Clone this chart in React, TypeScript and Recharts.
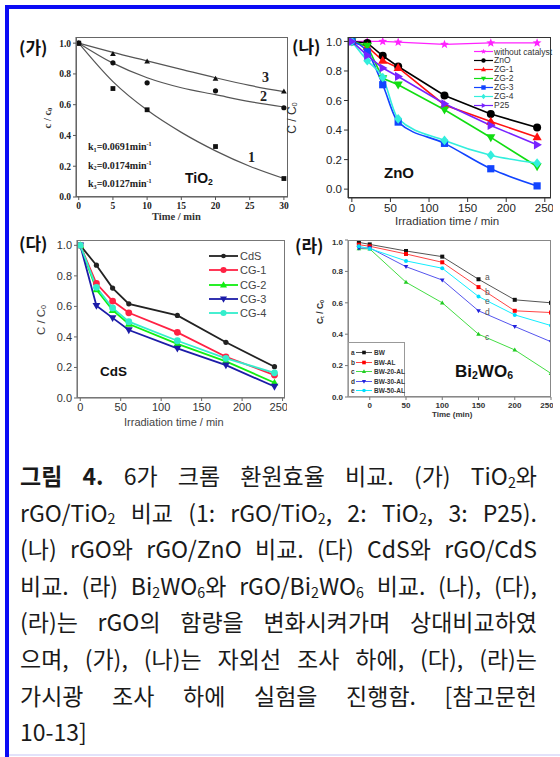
import React from 'react';
import { ComposedChart, LineChart, Line, XAxis, YAxis } from 'recharts';

// (가) TiO2 : fitted curves and measured points
const fitTime = [0, 5, 10, 15, 20, 25, 30];
const fit1 = [1.0, 0.75, 0.565, 0.42, 0.3, 0.2, 0.12];
const fit2 = [1.0, 0.87, 0.775, 0.71, 0.665, 0.62, 0.585];
const fit3 = [1.0, 0.94, 0.885, 0.83, 0.775, 0.725, 0.685];
const ptTime = [0, 5, 10, 20, 30];
const pts1 = [1.0, 0.705, 0.567, 0.328, 0.12];
const pts2 = [1.0, 0.872, 0.742, 0.69, 0.58];
const pts3 = [1.0, 0.93, 0.88, 0.768, 0.686];
const rateLabels = ['0.0691', '0.0174', '0.0127'];

// (나) ZnO
const znTime = [0, 20, 40, 60, 120, 180, 240];
const noCat = [1.0, 1.0, 1.0, 0.995, 0.98, 0.99, 0.99];
const zno = [1.0, 0.99, 0.903, 0.83, 0.634, 0.508, 0.417];
const zg1 = [1.0, 0.965, 0.87, 0.822, 0.57, 0.458, 0.352];
const zg2 = [1.0, 0.97, 0.75, 0.707, 0.537, 0.35, 0.153];
const zg3 = [1.0, 0.93, 0.707, 0.454, 0.31, 0.138, 0.022];
const zg4 = [1.0, 0.87, 0.756, 0.476, 0.33, 0.23, 0.176];
const p25 = [1.0, 0.905, 0.82, 0.763, 0.578, 0.431, 0.3];

// (다) CdS
const cdTime = [0, 20, 40, 60, 120, 180, 240];
const cds = [1.0, 0.87, 0.72, 0.617, 0.541, 0.365, 0.205];
const cg1 = [1.0, 0.75, 0.635, 0.558, 0.43, 0.27, 0.15];
const cg2 = [1.0, 0.71, 0.575, 0.485, 0.355, 0.24, 0.1];
const cg3 = [1.0, 0.605, 0.525, 0.445, 0.325, 0.215, 0.075];
const cg4 = [1.0, 0.725, 0.59, 0.5, 0.375, 0.26, 0.165];

// (라) Bi2WO6
const bwTime = [-15, 0, 50, 100, 150, 200, 250];
const bw = [0.985, 0.972, 0.93, 0.894, 0.75, 0.619, 0.6];
const bwAl = [0.97, 0.96, 0.911, 0.858, 0.7, 0.549, 0.538];
const bw20 = [0.945, 0.943, 0.731, 0.6, 0.4, 0.3, 0.15];
const bw30 = [0.948, 0.95, 0.83, 0.745, 0.549, 0.449, 0.352];
const bw50 = [0.96, 0.945, 0.867, 0.82, 0.64, 0.523, 0.455];

const yTicks = [0, 0.2, 0.4, 0.6, 0.8, 1.0];

type Shape = 'circle' | 'square' | 'tri' | 'down' | 'diamond' | 'right' | 'star';

const Mark = ({ cx, cy, shape, r, fill }: { cx?: number; cy?: number; shape: Shape; r: number; fill: string }) => {
  if (cx == null || cy == null || isNaN(cx) || isNaN(cy)) return null;
  switch (shape) {
    case 'circle':
      return <circle cx={cx} cy={cy} r={r} fill={fill} />;
    case 'square':
      return <rect x={cx - r} y={cy - r} width={r * 2} height={r * 2} fill={fill} />;
    case 'tri':
      return <path d={`M${cx},${cy - r * 1.2}L${cx + r * 1.15},${cy + r * 0.8}L${cx - r * 1.15},${cy + r * 0.8}Z`} fill={fill} />;
    case 'down':
      return <path d={`M${cx},${cy + r * 1.2}L${cx + r * 1.15},${cy - r * 0.8}L${cx - r * 1.15},${cy - r * 0.8}Z`} fill={fill} />;
    case 'right':
      return <path d={`M${cx + r * 1.2},${cy}L${cx - r * 0.8},${cy + r * 1.15}L${cx - r * 0.8},${cy - r * 1.15}Z`} fill={fill} />;
    case 'diamond':
      return <path d={`M${cx},${cy - r * 1.2}L${cx + r},${cy}L${cx},${cy + r * 1.2}L${cx - r},${cy}Z`} fill={fill} />;
    case 'star': {
      let d = '';
      for (let i = 0; i < 10; i++) {
        const rad = i % 2 === 0 ? r * 1.3 : r * 0.55;
        const a = -Math.PI / 2 + (i * Math.PI) / 5;
        d += `${i === 0 ? 'M' : 'L'}${cx + rad * Math.cos(a)},${cy + rad * Math.sin(a)}`;
      }
      return <path d={d + 'Z'} fill={fill} />;
    }
  }
  return null;
};

const dotFn = (shape: Shape, r: number, fill: string) => (p: any) => (
  <Mark key={`m${p.index}`} cx={p.cx} cy={p.cy} shape={shape} r={r} fill={fill} />
);

const toRows = (xs: number[], series: Record<string, number[]>) =>
  xs.map((x, i) => {
    const row: Record<string, number> = { x };
    Object.keys(series).forEach((k) => (row[k] = series[k][i]));
    return row;
  });

const pairs = (xs: number[], ys: number[]) => xs.map((x, i) => ({ x, y: ys[i] }));

type Rect = { x0: number; y0: number; x1: number; y1: number };
const YW = 40;
const XH = 30;
const chartBox = (r: Rect): React.CSSProperties => ({ position: 'absolute', left: r.x0 - YW, top: r.y0 - 2 });
const chartW = (r: Rect) => r.x1 - r.x0 + YW + 2;
const chartH = (r: Rect) => r.y1 - r.y0 + XH + 2;
const margin = { top: 2, right: 2, left: 0, bottom: 0 };

const Frame = ({ r, color }: { r: Rect; color: string }) => (
  <div style={{ position: 'absolute', left: r.x0, top: r.y0, width: r.x1 - r.x0, height: r.y1 - r.y0, border: `1px solid ${color}`, boxSizing: 'border-box', pointerEvents: 'none' }} />
);

const Txt = ({ x, y, size, children, style }: { x: number; y: number; size: number; children: React.ReactNode; style?: React.CSSProperties }) => (
  <div style={{ position: 'absolute', left: x, top: y, fontSize: size, lineHeight: 1, whiteSpace: 'nowrap', ...style }}>{children}</div>
);

const VTxt = ({ cx, cy, size, children, style }: { cx: number; cy: number; size: number; children: React.ReactNode; style?: React.CSSProperties }) => (
  <div style={{ position: 'absolute', left: cx, top: cy, fontSize: size, lineHeight: 1, whiteSpace: 'nowrap', transform: 'translate(-50%, -50%) rotate(-90deg)', ...style }}>{children}</div>
);

const sans = '"Liberation Sans", Arial, sans-serif';
const serif = '"Liberation Serif", "Times New Roman", serif';
const kr = '"Noto Sans CJK KR", sans-serif';
const fmt = (v: number) => v.toFixed(1);

const r1: Rect = { x0: 76, y0: 37, x1: 288, y1: 197 };
const r2: Rect = { x0: 348, y0: 37, x1: 551, y1: 198 };
const r3: Rect = { x0: 77, y0: 240, x1: 285, y1: 398 };
const r4: Rect = { x0: 348, y0: 240, x1: 551, y1: 397 };

const znSeries = [
  { key: 'noCat', name: 'without catalyst', vals: noCat, color: '#ff22ff', shape: 'star' as Shape, r: 3.6, w: 1.2, curve: 'linear' },
  { key: 'zno', name: 'ZnO', vals: zno, color: '#000000', shape: 'circle' as Shape, r: 4, w: 1.6, curve: 'linear' },
  { key: 'zg1', name: 'ZG-1', vals: zg1, color: '#ff1111', shape: 'tri' as Shape, r: 4, w: 1.6, curve: 'linear' },
  { key: 'zg2', name: 'ZG-2', vals: zg2, color: '#11dd11', shape: 'down' as Shape, r: 4, w: 1.6, curve: 'linear' },
  { key: 'zg3', name: 'ZG-3', vals: zg3, color: '#1144ff', shape: 'square' as Shape, r: 3.6, w: 1.6, curve: 'monotone' },
  { key: 'zg4', name: 'ZG-4', vals: zg4, color: '#33eedd', shape: 'diamond' as Shape, r: 4, w: 1.6, curve: 'monotone' },
  { key: 'p25', name: 'P25', vals: p25, color: '#7722ff', shape: 'right' as Shape, r: 4, w: 1.6, curve: 'linear' },
];

const cdSeries = [
  { key: 'cds', name: 'CdS', vals: cds, color: '#222222', shape: 'circle' as Shape, r: 2.6 },
  { key: 'cg1', name: 'CG-1', vals: cg1, color: '#ff2244', shape: 'circle' as Shape, r: 3.4 },
  { key: 'cg2', name: 'CG-2', vals: cg2, color: '#11ee11', shape: 'tri' as Shape, r: 3.4 },
  { key: 'cg3', name: 'CG-3', vals: cg3, color: '#1c1ca8', shape: 'down' as Shape, r: 3.4 },
  { key: 'cg4', name: 'CG-4', vals: cg4, color: '#33eecc', shape: 'circle' as Shape, r: 3.4 },
];

const bwSeries = [
  { key: 'bw', tag: 'a', name: 'BW', vals: bw, color: '#555555', dot: '#111111', shape: 'square' as Shape },
  { key: 'bwAl', tag: 'b', name: 'BW-AL', vals: bwAl, color: '#ff4444', dot: '#ff0000', shape: 'square' as Shape },
  { key: 'bw20', tag: 'c', name: 'BW-20-AL', vals: bw20, color: '#44dd44', dot: '#22cc22', shape: 'tri' as Shape },
  { key: 'bw30', tag: 'd', name: 'BW-30-AL', vals: bw30, color: '#5555ee', dot: '#2222dd', shape: 'down' as Shape },
  { key: 'bw50', tag: 'e', name: 'BW-50-AL', vals: bw50, color: '#11eeff', dot: '#00ddff', shape: 'circle' as Shape },
];
const bwTags = [
  { tag: 'a', y: 278 },
  { tag: 'b', y: 293 },
  { tag: 'e', y: 302 },
  { tag: 'd', y: 313 },
  { tag: 'c', y: 338 },
];

const znRows = toRows(znTime, Object.fromEntries(znSeries.map((s) => [s.key, s.vals])));
const cdRows = toRows(cdTime, Object.fromEntries(cdSeries.map((s) => [s.key, s.vals])));
const bwRows = toRows(bwTime, Object.fromEntries(bwSeries.map((s) => [s.key, s.vals])));

const Sub = ({ children }: { children: React.ReactNode }) => (
  <span style={{ fontSize: '0.62em', position: 'relative', top: '0.2em' }}>{children}</span>
);

const captionLines: React.ReactNode[] = [
  <><b>그림 4.</b> 6가 크롬 환원효율 비교. (가) TiO<Sub>2</Sub>와</>,
  <>rGO/TiO<Sub>2</Sub> 비교 (1: rGO/TiO<Sub>2</Sub>, 2: TiO<Sub>2</Sub>, 3: P25).</>,
  <>(나) rGO와 rGO/ZnO 비교. (다) CdS와 rGO/CdS</>,
  <>비교. (라) Bi<Sub>2</Sub>WO<Sub>6</Sub>와 rGO/Bi<Sub>2</Sub>WO<Sub>6</Sub> 비교. (나), (다),</>,
  <>(라)는 rGO의 함량을 변화시켜가며 상대비교하였</>,
  <>으며, (가), (나)는 자외선 조사 하에, (다), (라)는</>,
  <>가시광 조사 하에 실험을 진행함. [참고문헌</>,
  <>10-13]</>,
];

const App: React.FC = () => {
  return (
    <div style={{ position: 'absolute', left: 0, top: 0, width: 560, height: 757, background: '#ffffff', overflow: 'hidden', fontFamily: sans }}>
      {/* blue frame */}
      <div style={{ position: 'absolute', left: 5, top: 5, width: 555, height: 4, background: '#0b0bf5' }} />
      <div style={{ position: 'absolute', left: 5, top: 5, width: 4, height: 752, background: '#0b0bf5' }} />
      <div style={{ position: 'absolute', left: 9, top: 754, width: 551, height: 2, background: '#e2e2fa' }} />

      {/* (가) */}
      <div style={chartBox(r1)}>
        <ComposedChart width={chartW(r1)} height={chartH(r1)} margin={margin}>
          <XAxis dataKey="x" type="number" domain={[-0.4, 30.6]} ticks={[0, 5, 10, 15, 20, 25, 30]} height={XH} stroke="#555" tickSize={3}
            tick={{ fontSize: 9.5, fill: '#222', fontFamily: serif, fontWeight: 'bold' }} allowDataOverflow />
          <YAxis type="number" domain={[0, 1.04]} ticks={yTicks} width={YW} stroke="#555" tickSize={3} tickFormatter={fmt}
            tick={{ fontSize: 9.5, fill: '#222', fontFamily: serif, fontWeight: 'bold' }} allowDataOverflow />
          <Line data={pairs(fitTime, fit1)} dataKey="y" type="monotone" stroke="#555" strokeWidth={1.2} dot={false} isAnimationActive={false} />
          <Line data={pairs(fitTime, fit2)} dataKey="y" type="monotone" stroke="#555" strokeWidth={1.2} dot={false} isAnimationActive={false} />
          <Line data={pairs(fitTime, fit3)} dataKey="y" type="monotone" stroke="#555" strokeWidth={1.2} dot={false} isAnimationActive={false} />
          <Line data={pairs(ptTime, pts1)} dataKey="y" stroke="none" dot={dotFn('square', 2.4, '#111')} isAnimationActive={false} />
          <Line data={pairs(ptTime, pts2)} dataKey="y" stroke="none" dot={dotFn('circle', 2.6, '#111')} isAnimationActive={false} />
          <Line data={pairs(ptTime, pts3)} dataKey="y" stroke="none" dot={dotFn('tri', 2.5, '#111')} isAnimationActive={false} />
        </ComposedChart>
      </div>
      <Frame r={r1} color="#666" />
      <Txt x={19} y={38} size={17} style={{ fontFamily: kr, fontWeight: 'bold', color: '#111' }}>(가)</Txt>
      <VTxt cx={48} cy={118} size={10.5} style={{ fontFamily: serif, fontWeight: 'bold', color: '#333' }}>c / c<Sub>0</Sub></VTxt>
      <Txt x={152} y={212} size={10.5} style={{ fontFamily: serif, fontWeight: 'bold', color: '#333' }}>Time / min</Txt>
      {rateLabels.map((k, i) => (
        <Txt key={k} x={88} y={141 + i * 18.5} size={10} style={{ fontFamily: serif, fontWeight: 'bold', color: '#222' }}>
          k<Sub>{i + 1}</Sub>={k}min<sup style={{ fontSize: '0.6em' }}>-1</sup>
        </Txt>
      ))}
      <Txt x={185} y={171} size={14} style={{ fontFamily: sans, fontWeight: 'bold', color: '#111' }}>TiO<Sub>2</Sub></Txt>
      <Txt x={262} y={71} size={14} style={{ fontFamily: serif, fontWeight: 'bold', color: '#222' }}>3</Txt>
      <Txt x={260} y={90} size={14} style={{ fontFamily: serif, fontWeight: 'bold', color: '#222' }}>2</Txt>
      <Txt x={248} y={151} size={14} style={{ fontFamily: serif, fontWeight: 'bold', color: '#222' }}>1</Txt>

      {/* (나) */}
      <div style={chartBox(r2)}>
        <LineChart width={chartW(r2)} height={chartH(r2)} margin={margin} data={znRows}>
          <XAxis dataKey="x" type="number" domain={[-5, 258]} ticks={[0, 50, 100, 150, 200, 250]} height={XH} stroke="#333" tickSize={4}
            tick={{ fontSize: 11.5, fill: '#222', fontFamily: sans }} allowDataOverflow />
          <YAxis type="number" domain={[-0.06, 1.03]} ticks={yTicks} width={YW} stroke="#333" tickSize={4} tickFormatter={fmt}
            tick={{ fontSize: 11.5, fill: '#222', fontFamily: sans }} allowDataOverflow />
          {znSeries.map((s) => (
            <Line key={s.key} dataKey={s.key} type={s.curve as any} stroke={s.color} strokeWidth={s.w}
              dot={dotFn(s.shape, s.r, s.color)} isAnimationActive={false} />
          ))}
        </LineChart>
      </div>
      <Frame r={r2} color="#333" />
      <Txt x={292} y={37} size={17} style={{ fontFamily: kr, fontWeight: 'bold', color: '#111' }}>(나)</Txt>
      <VTxt cx={292} cy={118} size={12} style={{ color: '#333' }}>C / C<Sub>0</Sub></VTxt>
      <Txt x={395} y={216} size={11.5} style={{ color: '#333' }}>Irradiation time / min</Txt>
      <Txt x={384} y={165} size={15} style={{ fontWeight: 'bold', color: '#111' }}>ZnO</Txt>
      {znSeries.map((s, i) => (
        <div key={s.key} style={{ position: 'absolute', left: 474, top: 47 + i * 8.95, height: 9, display: 'flex', alignItems: 'center' }}>
          <svg width={19} height={9}>
            <line x1={0} y1={4.5} x2={19} y2={4.5} stroke={s.color} strokeWidth={1.2} />
            <Mark cx={9.5} cy={4.5} shape={s.shape} r={2.2} fill={s.color} />
          </svg>
          <span style={{ fontSize: 8.5, color: '#333', marginLeft: 1 }}>{s.name}</span>
        </div>
      ))}

      {/* (다) */}
      <div style={chartBox(r3)}>
        <LineChart width={chartW(r3)} height={chartH(r3)} margin={margin} data={cdRows}>
          <XAxis dataKey="x" type="number" domain={[-4, 253]} ticks={[0, 50, 100, 150, 200, 250]} height={XH} stroke="#666" tickSize={3}
            tick={{ fontSize: 11, fill: '#333', fontFamily: sans }} allowDataOverflow />
          <YAxis type="number" domain={[0, 1.035]} ticks={yTicks} width={YW} stroke="#666" tickSize={3} tickFormatter={fmt}
            tick={{ fontSize: 11, fill: '#333', fontFamily: sans }} allowDataOverflow />
          {cdSeries.map((s) => (
            <Line key={s.key} dataKey={s.key} type="linear" stroke={s.color} strokeWidth={1.8}
              dot={dotFn(s.shape, s.r, s.color)} isAnimationActive={false} />
          ))}
        </LineChart>
      </div>
      <Frame r={r3} color="#777" />
      <Txt x={19} y={234} size={17} style={{ fontFamily: kr, fontWeight: 'bold', color: '#111' }}>(다)</Txt>
      <VTxt cx={42} cy={320} size={11.5} style={{ color: '#444' }}>C / C<Sub>0</Sub></VTxt>
      <Txt x={124} y={417} size={11} style={{ color: '#444' }}>Irradiation time / min</Txt>
      <Txt x={100} y={365} size={13.5} style={{ fontWeight: 'bold', color: '#111' }}>CdS</Txt>
      {cdSeries.map((s, i) => (
        <div key={s.key} style={{ position: 'absolute', left: 209, top: 249 + i * 14.3, height: 14, display: 'flex', alignItems: 'center' }}>
          <svg width={29} height={14}>
            <line x1={0} y1={7} x2={29} y2={7} stroke={s.color} strokeWidth={1.8} />
            <Mark cx={14.5} cy={7} shape={s.shape} r={s.r * 0.9} fill={s.color} />
          </svg>
          <span style={{ fontSize: 11, color: '#444', marginLeft: 2 }}>{s.name}</span>
        </div>
      ))}

      {/* (라) */}
      <div style={chartBox(r4)}>
        <LineChart width={chartW(r4)} height={chartH(r4)} margin={margin} data={bwRows}>
          <XAxis dataKey="x" type="number" domain={[-30, 250]} ticks={[0, 50, 100, 150, 200, 250]} height={XH} stroke="#777" tickSize={3}
            tick={{ fontSize: 8, fill: '#333', fontFamily: sans, fontWeight: 'bold' }} allowDataOverflow />
          <YAxis type="number" domain={[0, 1]} ticks={yTicks} width={YW} stroke="#777" tickSize={3} tickFormatter={fmt}
            tick={{ fontSize: 8, fill: '#333', fontFamily: sans, fontWeight: 'bold' }} allowDataOverflow />
          {bwSeries.map((s) => (
            <Line key={s.key} dataKey={s.key} type="linear" stroke={s.color} strokeWidth={1}
              dot={dotFn(s.shape, 2, s.dot)} isAnimationActive={false} />
          ))}
        </LineChart>
      </div>
      <Frame r={r4} color="#888" />
      <Txt x={295} y={236} size={17} style={{ fontFamily: kr, fontWeight: 'bold', color: '#111' }}>(라)</Txt>
      <VTxt cx={320} cy={312} size={8.5} style={{ fontWeight: 'bold', color: '#333' }}>C<Sub>t</Sub> / C<Sub>0</Sub></VTxt>
      <Txt x={432} y={411} size={8} style={{ fontWeight: 'bold', color: '#333' }}>Time (min)</Txt>
      <Txt x={455} y={363} size={17} style={{ fontWeight: 'bold', color: '#111' }}>Bi<Sub>2</Sub>WO<Sub>6</Sub></Txt>
      {bwTags.map((t) => (
        <Txt key={t.tag} x={485} y={t.y - 5} size={8.5} style={{ color: '#555' }}>{t.tag}</Txt>
      ))}
      <div style={{ position: 'absolute', left: 348, top: 342, width: 57, height: 55, border: '1px solid #999', boxSizing: 'border-box', background: '#fff' }} />
      {bwSeries.map((s, i) => (
        <div key={s.key} style={{ position: 'absolute', left: 351, top: 348 + i * 9.6, height: 9, display: 'flex', alignItems: 'center', fontSize: 6.5, fontWeight: 'bold', color: '#333' }}>
          <span style={{ width: 5 }}>{s.tag}</span>
          <svg width={16} height={9}>
            <line x1={0} y1={4.5} x2={16} y2={4.5} stroke={s.color} strokeWidth={1} />
            <Mark cx={8} cy={4.5} shape={s.shape} r={1.8} fill={s.dot} />
          </svg>
          <span style={{ marginLeft: 2 }}>{s.name}</span>
        </div>
      ))}

      {/* caption */}
      <div style={{ position: 'absolute', left: 20, top: 457, width: 517, fontFamily: kr, fontSize: 23, color: '#1a1a1a' }}>
        {captionLines.map((line, i) => (
          <div key={i} style={{ height: 36.6, lineHeight: '36.6px', whiteSpace: 'nowrap', textAlign: 'justify', textAlignLast: i < captionLines.length - 1 ? 'justify' : 'left' }}>
            {line}
          </div>
        ))}
      </div>
    </div>
  );
};

export default App;
